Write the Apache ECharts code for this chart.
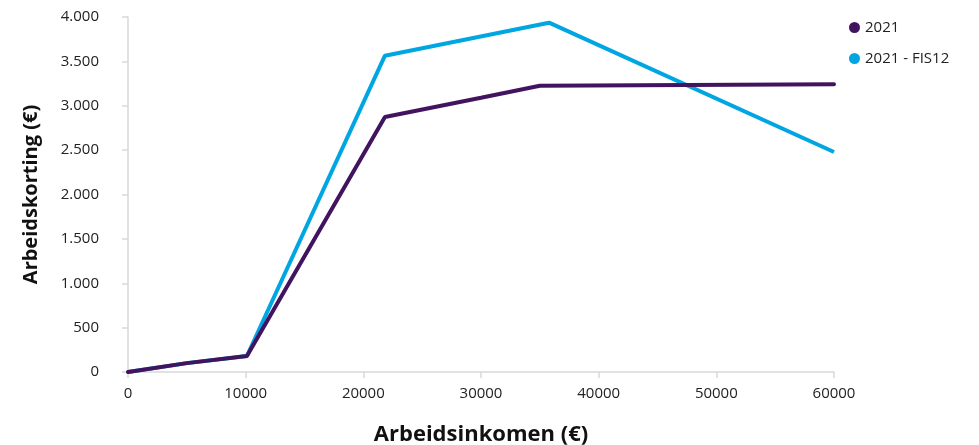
<!DOCTYPE html>
<html>
<head>
<meta charset="utf-8">
<script src="https://cdn.jsdelivr.net/npm/echarts@6/dist/echarts.min.js"></script>
<style>
  html, body { margin: 0; padding: 0; background: #fff; }
  #chart { width: 979px; height: 445px; }
</style>
</head>
<body>
<div id="chart"></div>
<script>
// inkomen (x) en arbeidskorting (y)
var inkomen2021 = [0, 5000, 10108, 21835, 30000, 35000, 60000];
var korting2021 = [0, 100, 180, 2873, 3090, 3225, 3243];

var inkomenFis = [0, 5000, 10108, 21835, 35780, 60000];
var kortingFis = [0, 100, 180, 3564, 3936, 2479];

var yTicks = [0, 500, 1000, 1500, 2000, 2500, 3000, 3500, 4000];

function pairs(xs, ys) {
    var res = [];
    for (var i = 0; i < xs.length; i++) {
        res.push([xs[i], ys[i]]);
    }
    return res;
}

// duizendtallen met een punt
function fmt(v) {
    return String(v).replace(/\B(?=(\d{3})+(?!\d))/g, '.');
}

var chart = echarts.init(document.getElementById('chart'));
chart.setOption({
    animation: false,
    textStyle: { fontFamily: 'Open Sans' },
    grid: { left: 128, right: 145, top: 17, bottom: 73, containLabel: false, outerBoundsMode: 'none' },
    legend: {
        orient: 'vertical',
        left: 844,
        top: 15,
        itemGap: 16,
        itemWidth: 11,
        itemHeight: 11,
        icon: 'circle',
        textStyle: { fontSize: 15, color: '#222' },
        data: ['2021', '2021 - FIS12']
    },
    xAxis: {
        type: 'value',
        min: 0,
        max: 60000,
        interval: 10000,
        name: 'Arbeidsinkomen (€)',
        nameLocation: 'middle',
        nameGap: 52,
        nameTextStyle: { fontSize: 22, fontWeight: 'bold', color: '#111' },
        axisLine: { show: true, lineStyle: { color: '#d9d9d9', width: 1.5 } },
        axisTick: { show: true, length: 6, lineStyle: { color: '#d9d9d9', width: 1.5 } },
        axisLabel: { fontSize: 15, color: '#222', margin: 14, formatter: function (v) { return String(v); } },
        splitLine: { show: false }
    },
    yAxis: {
        type: 'value',
        min: yTicks[0],
        max: yTicks[yTicks.length - 1],
        interval: 500,
        name: 'Arbeidskorting (€)',
        nameLocation: 'middle',
        nameGap: 87,
        nameTextStyle: { fontSize: 20, fontWeight: 'bold', color: '#111' },
        axisLine: { show: true, lineStyle: { color: '#d9d9d9', width: 1.5 } },
        axisTick: { show: true, length: 6, lineStyle: { color: '#d9d9d9', width: 1.5 } },
        axisLabel: { fontSize: 15, color: '#222', margin: 29, formatter: fmt },
        splitLine: { show: false }
    },
    series: [
        {
            name: '2021 - FIS12',
            type: 'line',
            data: pairs(inkomenFis, kortingFis),
            symbol: 'none',
            color: '#00a6e2',
            lineStyle: { width: 4, color: '#00a6e2' }
        },
        {
            name: '2021',
            type: 'line',
            data: pairs(inkomen2021, korting2021),
            symbol: 'none',
            color: '#42145f',
            lineStyle: { width: 4, color: '#42145f', cap: 'round' }
        }
    ]
});
</script>
</body>
</html>
